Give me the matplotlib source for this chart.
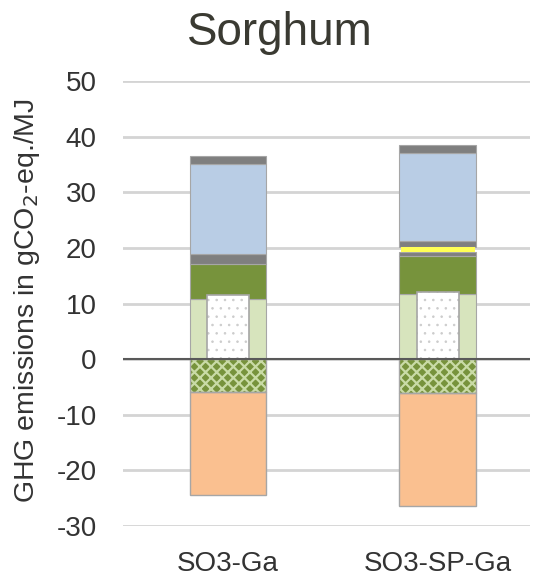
import numpy as np
import matplotlib
matplotlib.use('Agg')
import matplotlib.pyplot as plt

plt.rcParams['font.family'] = ['Liberation Sans', 'DejaVu Sans']
plt.rcParams['hatch.linewidth'] = 1.6
plt.rcParams['axes.unicode_minus'] = False

# Data (gCO2-eq./MJ)
categories = ['SO3-Ga', 'SO3-SP-Ga']
light_green = [10.9, 11.8]
dark_green = [6.3, 6.8]
grey_low = [1.8, 0.6]
yellow = [0.0, 0.9]
grey_high = [0.0, 1.2]
blue = [16.1, 15.7]
cap = [1.4, 1.6]
net_value = [11.6, 12.0]
credit_hatched = [-5.9, -6.1]
credit_orange = [-18.6, -20.3]

edge = '#a6a6a6'
x = np.arange(len(categories))
w = 0.365

fig = plt.figure(figsize=(5.38, 5.76), dpi=100)
ax = fig.add_axes([0.229, 0.087, 0.756, 0.772])

# positive stack
segments = [
    (light_green, '#d7e4bd', 0.8, 3),
    (dark_green, '#77933c', 0.8, 3),
    (grey_low, '#7f7f7f', 0.8, 3),
    (yellow, '#ffff55', 0, 4),
    (grey_high, '#7f7f7f', 0.8, 3),
    (blue, '#b9cde5', 0.8, 3),
    (cap, '#7f7f7f', 0.8, 3),
]
bottom = np.zeros(len(categories))
for vals, col, lw, z in segments:
    vals = np.array(vals)
    mask = vals > 0
    ax.bar(x[mask], vals[mask], w * 0.97 if lw == 0 else w, bottom=bottom[mask],
           color=col, edgecolor=edge, linewidth=lw, zorder=z)
    bottom += vals

# negative stack: hatched green then orange
ax.bar(x, credit_hatched, w, color='#77933c', edgecolor='#c9dba6',
       hatch='xxx', linewidth=0, zorder=3)
ax.bar(x, credit_hatched, w, fill=False, edgecolor=edge, linewidth=1.0, zorder=4)
ax.bar(x, credit_orange, w, bottom=credit_hatched, color='#fac090',
       edgecolor=edge, linewidth=1.0, zorder=3)

# net value drawn as narrower dotted bar
plt.rcParams['hatch.linewidth'] = 0.6
ax.bar(x, net_value, 0.2, color='white', edgecolor='#cccccc', hatch='..',
       linewidth=0, zorder=5)
ax.bar(x, net_value, 0.2, fill=False, edgecolor='#a6a6a6', linewidth=1.2, zorder=6)

ax.axhline(0, color='#595959', linewidth=1.5, zorder=7)

ax.set_ylim(-30, 50)
ax.set_xlim(-0.5, 1.44)
ax.set_yticks(np.arange(-30, 51, 10))
ax.set_xticks(x)
ax.set_xticklabels(categories)
ax.yaxis.grid(True, color='#d4d4d4', linewidth=2)
ax.set_axisbelow(True)
for s in ax.spines.values():
    s.set_visible(False)
ax.tick_params(axis='y', length=0, pad=19, labelsize=20, labelcolor='#333333')
ax.tick_params(axis='x', length=0, pad=18, labelsize=20, labelcolor='#333333')

fig.text(0.05, 0.478, 'GHG emissions in gCO$_2$-eq./MJ', rotation=90,
         ha='center', va='center', fontsize=20.5, color='#333333')
fig.text(0.52, 0.943, 'Sorghum', ha='center', va='center', fontsize=33,
         color='#3a3a32')

fig.savefig('out.png', dpi=100)
